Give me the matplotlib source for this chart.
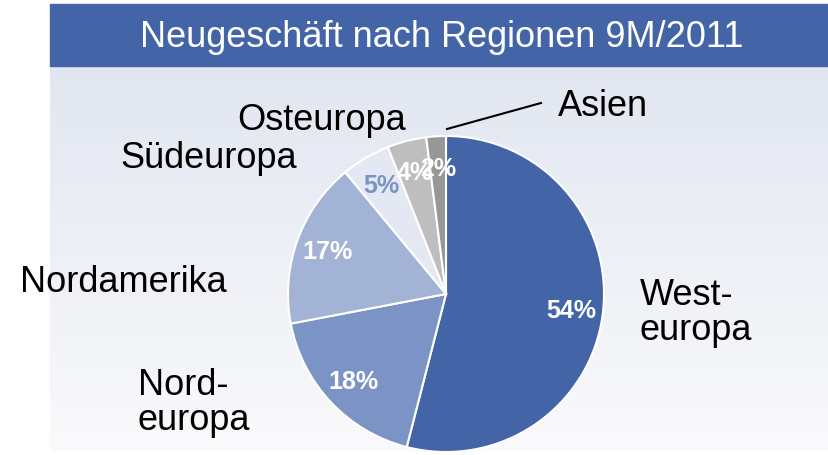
import matplotlib.pyplot as plt
import numpy as np

plt.rcParams['font.family'] = ['Liberation Sans', 'DejaVu Sans']

# data
regions = ['Westeuropa', 'Nordeuropa', 'Nordamerika', 'Südeuropa', 'Osteuropa', 'Asien']
shares = [54, 18, 17, 5, 4, 2]
colors = ['#4364A7', '#7C93C5', '#A2B3D5', '#E3E8F2', '#BEBEBE', '#979797']
pct_colors = ['white', 'white', 'white', '#7C93C5', 'white', 'white']
title = 'Neugeschäft nach Regionen 9M/2011'

W, H = 829, 456
fig = plt.figure(figsize=(W / 100, H / 100), dpi=100)
ax = fig.add_axes([0, 0, 1, 1])

# gradient panel behind the pie
grad = np.linspace(0, 1, 256).reshape(-1, 1)
top = np.array([225, 230, 240]) / 255
bot = np.array([250, 250, 252]) / 255
img = top + (bot - top) * grad[..., None]
ax.imshow(img, extent=[50, W, 4, 389], aspect='auto', zorder=0, origin='upper')

# title bar
ax.add_patch(plt.Rectangle((50, 389), W - 50, 62, color='#4364A7', zorder=1))
ax.text(442, 419, title, color='white', fontsize=26, ha='center', va='center', zorder=2)

cx, cy, r = 446, 161, 158
wedges, texts, autotexts = ax.pie(
    shares, colors=colors, startangle=90, counterclock=False,
    center=(cx, cy), radius=r, autopct='%d%%', pctdistance=0.8,
    wedgeprops={'edgecolor': 'white', 'linewidth': 1.5},
    textprops={'fontsize': 18, 'fontweight': 'bold', 'color': 'white'})
for t, c in zip(autotexts, pct_colors):
    t.set_color(c)
    t.set_zorder(5)

lab = dict(fontsize=26, color='black', va='center', linespacing=1.0)
ax.text(640, H - 313, 'West-\neuropa', ha='left', **lab)
ax.text(138, H - 403, 'Nord-\neuropa', ha='left', **lab)
ax.text(123, H - 283, 'Nordamerika', ha='center', **lab)
ax.text(209, H - 158, 'Südeuropa', ha='center', **lab)
ax.text(322, H - 120, 'Osteuropa', ha='center', **lab)
ax.text(603, H - 106, 'Asien', ha='center', **lab)
ax.plot([447, 541], [H - 130, H - 104], color='black', lw=1.5)

ax.set_xlim(0, W)
ax.set_ylim(0, H)
ax.set_aspect('equal')
ax.axis('off')

fig.savefig('out.png', dpi=100)
